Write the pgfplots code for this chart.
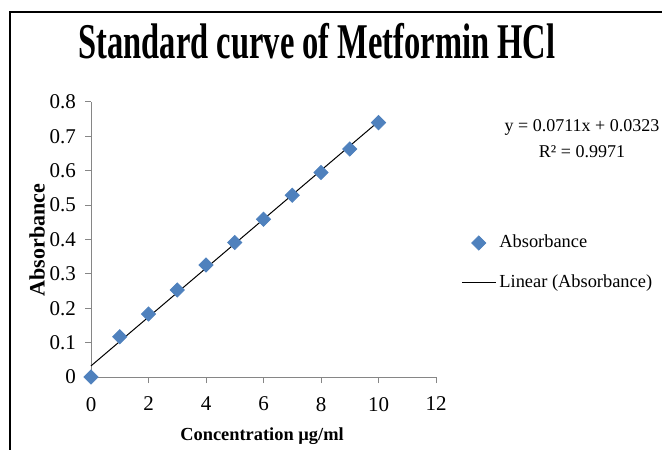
\documentclass[border=0pt]{standalone}
\usepackage{pgfplots}
\pgfplotsset{compat=1.18}
\usepackage{fontspec}
\setmainfont{Liberation Serif}
\usepackage{graphicx}

\definecolor{xlblue}{HTML}{4F81BD}
\definecolor{xlaxis}{HTML}{868686}

\begin{document}
\begin{tikzpicture}
% page = 662x450 px at 0.5pt per px
\useasboundingbox (0,0) rectangle (331pt,225pt);
\draw[line width=1pt] (331pt,219pt) -- (5pt,219pt) -- (5pt,0pt);

\node[font=\fontsize{25}{30}\selectfont\bfseries] at (158.5pt,204.5pt)
  {\scalebox{0.65}[1]{Standard curve of Metformin HCl}};

\begin{axis}[
    at={(45.5pt,36.5pt)}, anchor=south west,
    scale only axis,
    width=172.5pt, height=137.5pt,
    xmin=0, xmax=12, ymin=0, ymax=0.8,
    xtick={0,2,...,12},
    ytick={0,0.1,...,0.8},
    axis x line=bottom, axis y line=left,
    axis line style={xlaxis, -},
    tick style={xlaxis, line width=0.5pt},
    tick align=outside,
    major tick length=3pt,
    tick label style={font=\fontsize{10.5}{12}\selectfont},
    xticklabel style={yshift=-3.5pt},
    yticklabel style={xshift=-1pt, /pgf/number format/fixed, /pgf/number format/precision=1},
    /pgf/number format/assume math mode=true,
    clip=false,
    legend style={draw=none, fill=none, inner sep=0pt,
        at={(1.072,0.415)}, anchor=west,
        font=\fontsize{9.2}{11}\selectfont,
        row sep=8pt,
        nodes={inner xsep=1.5pt}},
    legend cell align=left,
]
\addplot[only marks, mark=square*, mark size=2.5pt,
    mark options={rotate=45, fill=xlblue, draw=xlblue}]
    coordinates {
    (0,0)(1,0.117)(2,0.183)(3,0.253)(4,0.326)(5,0.391)
    (6,0.459)(7,0.529)(8,0.595)(9,0.663)(10,0.740)
    };
\addlegendentry{Absorbance}
\addplot[black, line width=0.5pt, mark=none]
    coordinates {(0,0.0323)(10,0.7433)};
\addlegendentry{Linear (Absorbance)}
\end{axis}

\node[font=\fontsize{9}{11}\selectfont] at (291pt,161.5pt) {y = 0.0711x + 0.0323};
\node[font=\fontsize{9}{11}\selectfont] at (291pt,149pt) {R² = 0.9971};

\node[font=\fontsize{11}{13}\selectfont\bfseries, rotate=90] at (18.5pt,105pt) {Absorbance};
\node[font=\fontsize{9.2}{11}\selectfont\bfseries] at (131pt,7pt) {Concentration µg/ml};
\end{tikzpicture}
\end{document}
